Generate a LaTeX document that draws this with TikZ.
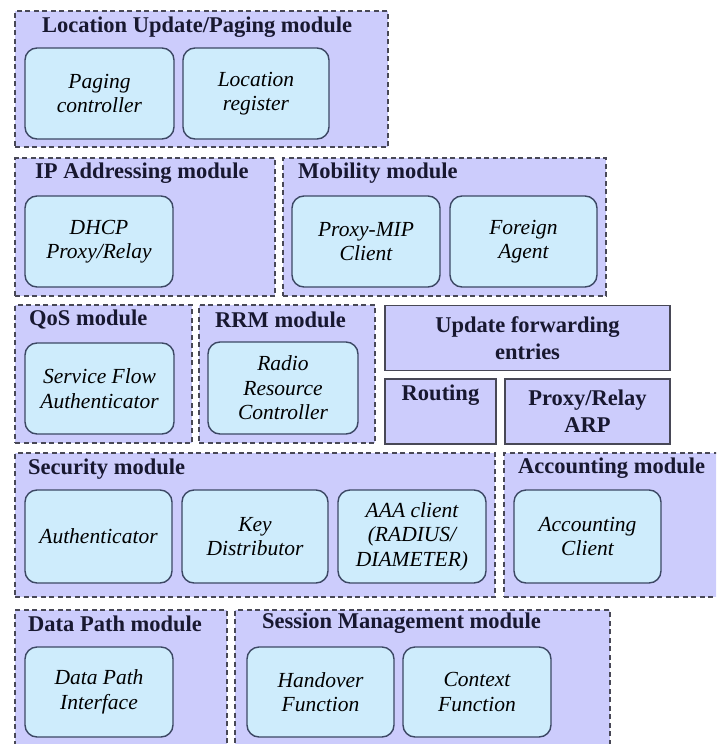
\documentclass[tikz,border=0pt]{standalone}
\usepackage{fontspec}
\setmainfont{Liberation Serif}
\definecolor{modfill}{RGB}{204,204,252}
\definecolor{modline}{RGB}{72,72,86}
\definecolor{fnfill}{RGB}{206,236,252}
\definecolor{fnline}{RGB}{60,72,100}
\definecolor{titlecol}{RGB}{24,24,48}
\begin{document}
\begin{tikzpicture}[x=1pt,y=-1pt,
  module/.style={draw=modline, fill=modfill, line width=1.5pt,
    dash pattern=on 5pt off 3.5pt, inner sep=0pt},
  solidbox/.style={draw=modline, fill=modfill, line width=1.5pt, inner sep=0pt,
    align=center, font=\fontsize{22.5}{27}\selectfont\bfseries\color{titlecol}},
  fn/.style={draw=fnline, fill=fnfill, line width=1.4pt, rounded corners=12pt,
    inner sep=0pt, align=center, font=\fontsize{21.5}{24.5}\selectfont\itshape},
  title/.style={anchor=west, inner sep=0pt,
    font=\fontsize{22.5}{24}\selectfont\bfseries\color{titlecol}}]
\useasboundingbox (0,0) rectangle (716,744);
\clip (0,0) rectangle (716,744);
\fill[white] (0,0) rectangle (716,744);

% module frames
\node[module, minimum width=373pt, minimum height=136pt] (loc) at (201.5,79) {};
\node[module, minimum width=260pt, minimum height=138pt] (ip)  at (145,227) {};
\node[module, minimum width=323pt, minimum height=138pt] (mob) at (444.5,227) {};
\node[module, minimum width=177pt, minimum height=138pt] (qos) at (103.5,374) {};
\node[module, minimum width=176pt, minimum height=138pt] (rrm) at (287,374) {};
\node[module, minimum width=480pt, minimum height=144pt] (sec) at (255,525) {};
\node[module, minimum width=218pt, minimum height=144pt] (acc) at (613,525) {};
\node[module, minimum width=212pt, minimum height=142pt] (dp)  at (121,681) {};
\node[module, minimum width=375pt, minimum height=142pt] (ses) at (422.5,681) {};

% module titles
\node[title] (locT) at (42,27)  {Location Update/Paging module};
\node[title] (ipT)  at (35,173) {IP Addressing module};
\node[title] (mobT) at (298,173) {Mobility module};
\node[title] (qosT) at (29,320) {QoS module};
\node[title] (rrmT) at (215,320) {RRM module};
\node[title] (secT) at (28,469) {Security module};
\node[title] (accT) at (518,468) {Accounting module};
\node[title] (dpT)  at (28,624) {Data Path module};
\node[title] (sesT) at (262,623) {Session Management module};

% forwarding blocks
\node[solidbox, minimum width=285pt, minimum height=65pt] (upd) at (527.5,338)
  {Update forwarding\\entries};
\node[solidbox, minimum width=111pt, minimum height=65pt,
  label={[solidbox, draw=none, fill=none, anchor=north, yshift=-6pt]north:Routing}]
  (rout) at (440.5,411.5) {};
\node[solidbox, minimum width=165pt, minimum height=65pt] (arp) at (587.5,411.5)
  {Proxy/Relay\\ARP};

% functional blocks
\node[fn, minimum width=149pt, minimum height=91pt] (pag) at (99.5,93.5) {Paging\\controller};
\node[fn, minimum width=146pt, minimum height=91pt] (lreg) at (256,93.5) {Location\\register};
\node[fn, minimum width=148pt, minimum height=91pt] (dhcp) at (99,241.5) {DHCP\\Proxy/Relay};
\node[fn, minimum width=148pt, minimum height=91pt] (pmip) at (366,241.5) {Proxy-MIP\\Client};
\node[fn, minimum width=147pt, minimum height=91pt] (fa) at (523.5,241.5) {Foreign\\Agent};
\node[fn, minimum width=149pt, minimum height=91pt] (sfa) at (99.5,388.5) {Service Flow\\Authenticator};
\node[fn, minimum width=150pt, minimum height=92pt] (rrc) at (283,388) {Radio\\Resource\\Controller};
\node[fn, minimum width=147pt, minimum height=93pt] (auth) at (98.5,536.5) {Authenticator};
\node[fn, minimum width=146pt, minimum height=93pt] (kd) at (255,536.5) {Key\\Distributor};
\node[fn, minimum width=148pt, minimum height=93pt] (aaa) at (412,536.5) {AAA client\\(RADIUS/\\DIAMETER)};
\node[fn, minimum width=147pt, minimum height=93pt] (accc) at (587.5,536.5) {Accounting\\Client};
\node[fn, minimum width=148pt, minimum height=90pt] (dpi) at (99,692) {Data Path\\Interface};
\node[fn, minimum width=147pt, minimum height=90pt] (hof) at (320.5,692) {Handover\\Function};
\node[fn, minimum width=148pt, minimum height=90pt] (ctx) at (477,692) {Context\\Function};
\end{tikzpicture}
\end{document}
